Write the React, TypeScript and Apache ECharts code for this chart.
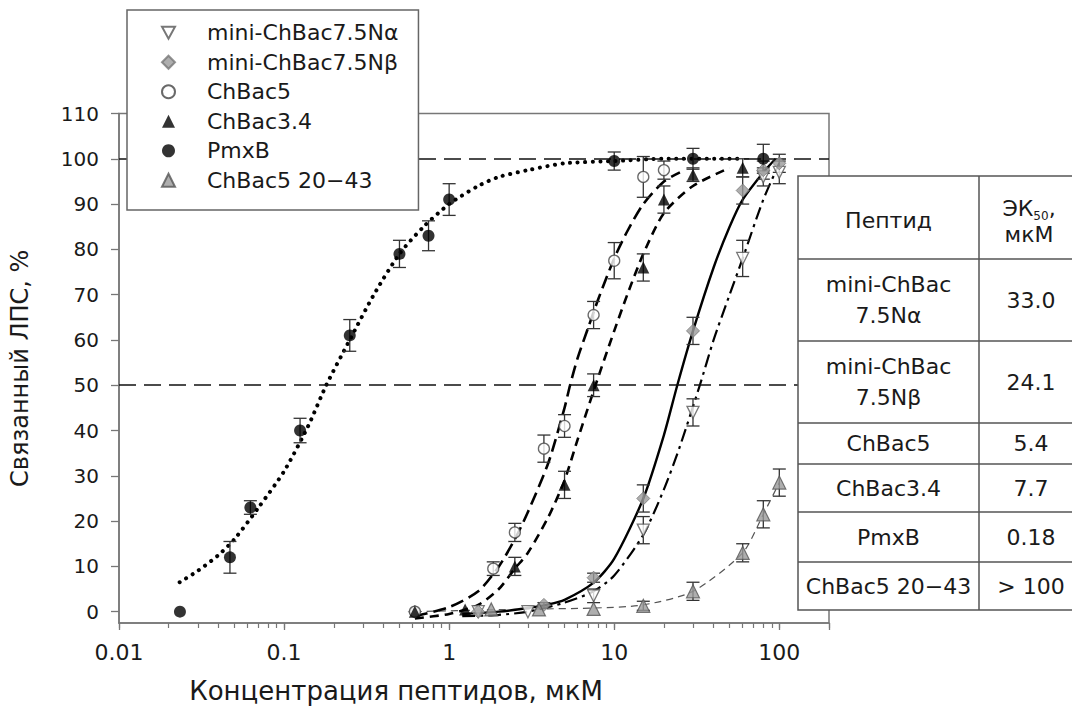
import React, { useEffect, useRef } from "react";
import * as echarts from "echarts";

const FONT = "'DejaVu Sans', 'Noto Sans', sans-serif";
const TXT = "#1a1a1a";
const AX = "#777";

const seriesNames = ["mini-ChBac7.5Nα", "mini-ChBac7.5Nβ", "ChBac5", "ChBac3.4", "PmxB", "ChBac5 20−43"];

// measured points (x in µM, y in %), with error half-widths
const naX = [1.5, 3, 7.5, 15, 30, 60, 80, 100];
const naY = [0, 0, 3.5, 18, 44, 78, 96, 97];
const naErr = [0, 0, 1.5, 3, 3, 4, 2, 2.5];

const nbX = [0.62, 1.5, 3.75, 7.5, 15, 30, 60, 80, 100];
const nbY = [0, 0, 1.5, 7.5, 25, 62, 93, 97.5, 99];
const nbErr = [0, 0, 0.5, 1, 3, 3, 3, 2, 2];

const c5X = [0.62, 1.85, 2.5, 3.75, 5, 7.5, 10, 15, 20];
const c5Y = [0, 9.5, 17.5, 36, 41, 65.5, 77.5, 96, 97.5];
const c5Err = [0, 1.5, 2, 3, 2.5, 3, 4, 4.5, 2];

const c34X = [0.62, 1.25, 2.5, 5, 7.5, 15, 20, 30, 60];
const c34Y = [0, 0.5, 10, 28, 50, 76, 91, 96.5, 98];
const c34Err = [0, 0, 2, 3, 2.5, 3, 3, 1.5, 2];

const pmX = [0.0234, 0.047, 0.0625, 0.125, 0.25, 0.5, 0.75, 1, 10, 30, 80];
const pmY = [0, 12, 23, 40, 61, 79, 83, 91, 99.5, 100, 100];
const pmErr = [0, 3.5, 1.5, 2.7, 3.5, 3, 3.3, 3.5, 2, 2.3, 3.2];

const f43X = [1.8, 3.5, 7.5, 15, 30, 60, 80, 100];
const f43Y = [0.5, 0.5, 0.6, 1.3, 4.5, 13, 21.5, 28.5];
const f43Err = [0, 0, 0, 1, 2, 2, 3, 3];

// fitted curves
const pmCurveX = [0.0233, 0.03, 0.04, 0.05, 0.07, 0.1, 0.14, 0.18, 0.25, 0.35, 0.5, 0.7, 1, 1.5, 2, 3, 5, 10, 20, 40, 60];
const pmCurveY = [6.5, 9, 12.5, 16, 23, 31, 41, 50, 60, 70, 79, 85, 90, 94, 96, 97.5, 99, 99.5, 100, 100, 100];

const c5CurveX = [0.62, 1, 1.5, 2, 2.5, 3, 4, 5, 5.4, 6, 7, 8, 10, 12, 15, 20, 25];
const c5CurveY = [-1, 1, 4.5, 10, 16, 22, 33, 45, 50, 56, 63, 69, 78, 84, 90, 95, 97];

const c34CurveX = [0.62, 1, 1.5, 2, 2.5, 3, 4, 5, 6, 7.7, 10, 12, 15, 20, 30, 50];
const c34CurveY = [-1.5, -0.5, 1.5, 5, 9.5, 13, 21, 29, 38, 50, 62, 70, 79, 88, 94, 98];

const nbCurveX = [1.2, 2, 3, 4, 5, 7.5, 10, 15, 20, 24.1, 30, 40, 50, 60, 80, 95];
const nbCurveY = [-0.5, 0, 0.8, 1.6, 2.6, 6.4, 11.7, 25, 39, 50, 62, 76, 85, 91, 97, 100];

const naCurveX = [1.2, 2, 3, 5, 7.5, 10, 15, 20, 25, 33, 40, 50, 60, 80, 100];
const naCurveY = [-1, -0.7, 0, 2, 4.5, 8, 17, 27, 36.5, 50, 60, 70, 78, 91, 99];

const f43CurveX = [0.62, 1.8, 3.5, 7.5, 15, 30, 60, 80, 100];
const f43CurveY = [0, 0.4, 0.6, 0.8, 1.5, 4.5, 13, 21.5, 28.5];

// axes
const yTicks = [0, 10, 20, 30, 40, 50, 60, 70, 80, 90, 100, 110];
const refLines = [100, 50];
const xMin = 0.01;
const xMax = 200;

// table
const tablePeptides = ["mini-ChBac\n7.5Nα", "mini-ChBac\n7.5Nβ", "ChBac5", "ChBac3.4", "PmxB", "ChBac5 20−43"];
const tableEC50 = ["33.0", "24.1", "5.4", "7.7", "0.18", "> 100"];

const pts = (xs: number[], ys: number[]) => xs.map((x, i) => [x, ys[i]]);
const errs = (xs: number[], ys: number[], es: number[]) =>
  xs.map((x, i) => [x, ys[i] - es[i], ys[i] + es[i], es[i]]).filter((d) => d[3] > 0);

export default function App() {
  const ref = useRef<HTMLDivElement>(null);
  useEffect(() => {
    if (!ref.current) return;
    const chart = echarts.init(ref.current, null, { renderer: "svg" });

    const minorTicks: number[] = [];
    for (let k = -2; k <= 2; k++) {
      for (let m = 1; m <= 9; m++) {
        const v = m * Math.pow(10, k);
        if (v <= xMax * 1.0001) minorTicks.push(Math.log10(v));
      }
    }

    const errorSeries = (name: string, data: number[][]) => ({
      type: "custom",
      name: name + " err",
      silent: true,
      z: 4,
      renderItem: (_p: any, api: any) => {
        const x = api.value(0);
        const lo = api.coord([x, api.value(1)]);
        const hi = api.coord([x, api.value(2)]);
        const w = 6.5;
        const st = { stroke: "#333", lineWidth: 1.3 };
        return {
          type: "group",
          children: [
            { type: "line", shape: { x1: lo[0], y1: lo[1], x2: hi[0], y2: hi[1] }, style: st },
            { type: "line", shape: { x1: lo[0] - w, y1: lo[1], x2: lo[0] + w, y2: lo[1] }, style: st },
            { type: "line", shape: { x1: hi[0] - w, y1: hi[1], x2: hi[0] + w, y2: hi[1] }, style: st },
          ],
        };
      },
      encode: { x: 0, y: [1, 2] },
      data,
    });

    const curve = (xs: number[], ys: number[], lineStyle: any, extra: any = {}) => ({
      type: "line",
      data: pts(xs, ys),
      showSymbol: false,
      symbol: "none",
      smooth: 0.25,
      silent: true,
      z: 3,
      lineStyle,
      ...extra,
    });

    const tableTop = 176;
    const rowEdges = [176, 259, 341, 423, 464, 512, 562, 610];
    const tL = 798, tDiv = 979, tR = 1090;
    const tableEls: any[] = [
      {
        type: "rect",
        shape: { x: tL, y: tableTop, width: tR - tL, height: rowEdges[7] - tableTop },
        style: { fill: "#fff", stroke: "#555", lineWidth: 1.5 },
        z: 100,
      },
      { type: "line", shape: { x1: tDiv, y1: tableTop, x2: tDiv, y2: rowEdges[7] }, style: { stroke: "#555", lineWidth: 1.5 }, z: 101 },
    ];
    for (let i = 1; i < rowEdges.length - 1; i++) {
      tableEls.push({
        type: "line",
        shape: { x1: tL, y1: rowEdges[i], x2: tR, y2: rowEdges[i] },
        style: { stroke: "#555", lineWidth: 1.5 },
        z: 101,
      });
    }
    const colC1 = (tL + tDiv) / 2;
    const colC2 = 1031;
    tableEls.push({
      type: "text",
      x: colC1,
      y: (rowEdges[0] + rowEdges[1]) / 2 + 3,
      style: { text: "Пептид", fontSize: 22, fontFamily: FONT, fill: TXT, align: "center", verticalAlign: "middle" },
      z: 102,
    });
    tableEls.push({
      type: "text",
      x: colC2 - 2,
      y: (rowEdges[0] + rowEdges[1]) / 2 + 4,
      style: {
        text: "{a|ЭК}{s|50}{a|,}\n{a|мкМ}",
        align: "center",
        verticalAlign: "middle",
        rich: {
          a: { fontSize: 22, fontFamily: FONT, fill: TXT, lineHeight: 26 },
          s: { fontSize: 12, fontFamily: FONT, fill: TXT, lineHeight: 26, verticalAlign: "bottom" },
        },
      },
      z: 102,
    });
    tablePeptides.forEach((p, i) => {
      const cy = (rowEdges[i + 1] + rowEdges[i + 2]) / 2;
      tableEls.push({
        type: "text",
        x: colC1,
        y: cy,
        style: { text: p, fontSize: 22, fontFamily: FONT, fill: TXT, align: "center", verticalAlign: "middle", lineHeight: 31 },
        z: 102,
      });
      tableEls.push({
        type: "text",
        x: colC2,
        y: cy,
        style: { text: tableEC50[i], fontSize: 22, fontFamily: FONT, fill: TXT, align: "center", verticalAlign: "middle" },
        z: 102,
      });
    });

    const legendData = seriesNames.map((n, i) =>
      i === 0 ? { name: n, icon: "path://M0,0L12,0L6,11Z" } : { name: n }
    );

    const option: any = {
      animation: false,
      backgroundColor: "#fff",
      textStyle: { fontFamily: FONT },
      grid: { left: 119, right: 243, top: 113.5, bottom: 83, show: true, borderColor: AX, borderWidth: 1.5, backgroundColor: "transparent" },
      legend: {
        orient: "vertical",
        left: 127,
        top: 10,
        data: legendData,
        itemWidth: 13,
        itemHeight: 13,
        itemGap: 0,
        padding: [8, 20, 15, 34],
        backgroundColor: "#fff",
        borderColor: "#666",
        borderWidth: 1.5,
        borderRadius: 0,
        selectedMode: false,
        z: 20,
        textStyle: { fontSize: 22, fontFamily: FONT, color: TXT, lineHeight: 29.5, padding: [0, 0, 0, 27] },
      },
      xAxis: [
        {
          type: "log",
          logBase: 10,
          min: xMin,
          max: xMax,
          axisLine: { show: true, onZero: false, lineStyle: { color: AX, width: 1.5 } },
          axisTick: { show: true, inside: false, length: 7, lineStyle: { color: AX, width: 1.3 } },
          axisLabel: {
            fontSize: 22,
            fontFamily: FONT,
            color: TXT,
            margin: 18,
            formatter: (v: number) => {
              const l = Math.log10(v);
              return Math.abs(l - Math.round(l)) < 1e-6 ? String(Number(v.toPrecision(3))) : "";
            },
          },
          splitLine: { show: false },
          name: "Концентрация пептидов, мкМ",
          nameLocation: "middle",
          nameGap: 55,
          nameTextStyle: { fontSize: 26, fontFamily: FONT, color: TXT, padding: [0, 156, 0, 0] },
        },
        {
          type: "value",
          min: -2,
          max: Math.log10(xMax),
          position: "bottom",
          axisLine: { show: false, onZero: false },
          axisLabel: { show: false },
          splitLine: { show: false },
          axisTick: { show: true, length: 5, customValues: minorTicks, lineStyle: { color: AX, width: 1.2 } },
        },
      ],
      yAxis: {
        type: "value",
        min: -2.5,
        max: 110,
        axisLine: { show: true, onZero: false, lineStyle: { color: AX, width: 1.5 } },
        axisTick: { show: true, length: 8, customValues: yTicks, lineStyle: { color: AX, width: 1.3 } },
        axisLabel: { customValues: yTicks, fontSize: 20, fontFamily: FONT, color: TXT, margin: 20 },
        splitLine: { show: false },
        name: "Связанный ЛПС, %",
        nameLocation: "middle",
        nameGap: 87,
        nameRotate: 90,
        nameTextStyle: { fontSize: 24, fontFamily: FONT, color: TXT },
      },
      series: [
        curve(f43CurveX, f43CurveY, { color: "#555", width: 1.2, type: [7, 5] }, {
          markLine: {
            silent: true,
            symbol: "none",
            label: { show: false },
            lineStyle: { color: "#111", width: 1.6, type: [17, 8] },
            data: refLines.map((v) => ({ yAxis: v })),
          },
        }),
        curve(pmCurveX, pmCurveY, { color: "#000", width: 4, type: [0.1, 7.5], cap: "round" }),
        curve(c5CurveX, c5CurveY, { color: "#000", width: 2.6, type: [13, 6] }),
        curve(c34CurveX, c34CurveY, { color: "#000", width: 2.6, type: [9, 6] }),
        curve(nbCurveX, nbCurveY, { color: "#000", width: 2.4, type: "solid" }),
        curve(naCurveX, naCurveY, { color: "#000", width: 2.2, type: [13, 5, 3, 5] }),
        errorSeries("na", errs(naX, naY, naErr)),
        errorSeries("nb", errs(nbX, nbY, nbErr)),
        errorSeries("c5", errs(c5X, c5Y, c5Err)),
        errorSeries("c34", errs(c34X, c34Y, c34Err)),
        errorSeries("pm", errs(pmX, pmY, pmErr)),
        errorSeries("f43", errs(f43X, f43Y, f43Err)),
        {
          type: "scatter",
          name: seriesNames[0],
          data: pts(naX, naY),
          symbol: "triangle",
          symbolRotate: 180,
          symbolSize: 12,
          itemStyle: { color: "#fff", borderColor: "#555", borderWidth: 1.3 },
          z: 6,
        },
        {
          type: "scatter",
          name: seriesNames[1],
          data: pts(nbX, nbY),
          symbol: "diamond",
          symbolSize: 13,
          itemStyle: { color: "#9a9a9a", borderColor: "#777", borderWidth: 1 },
          z: 6,
        },
        {
          type: "scatter",
          name: seriesNames[2],
          data: pts(c5X, c5Y),
          symbol: "circle",
          symbolSize: 11,
          itemStyle: { color: "#fff", borderColor: "#444", borderWidth: 1.3 },
          z: 6,
        },
        {
          type: "scatter",
          name: seriesNames[3],
          data: pts(c34X, c34Y),
          symbol: "triangle",
          symbolSize: 12,
          itemStyle: { color: "#000" },
          z: 6,
        },
        {
          type: "scatter",
          name: seriesNames[4],
          data: pts(pmX, pmY),
          symbol: "circle",
          symbolSize: 12,
          itemStyle: { color: "#000" },
          z: 6,
        },
        {
          type: "scatter",
          name: seriesNames[5],
          data: pts(f43X, f43Y),
          symbol: "triangle",
          symbolSize: 13,
          itemStyle: { color: "#9a9a9a", borderColor: "#555", borderWidth: 1.2 },
          z: 6,
        },
      ],
      graphic: { elements: tableEls },
    };
    chart.setOption(option);
    return () => chart.dispose();
  }, []);
  return (
    <div
      ref={ref}
      style={{ position: "absolute", left: 0, top: 0, width: 1072, height: 709, background: "#fff" }}
    />
  );
}
